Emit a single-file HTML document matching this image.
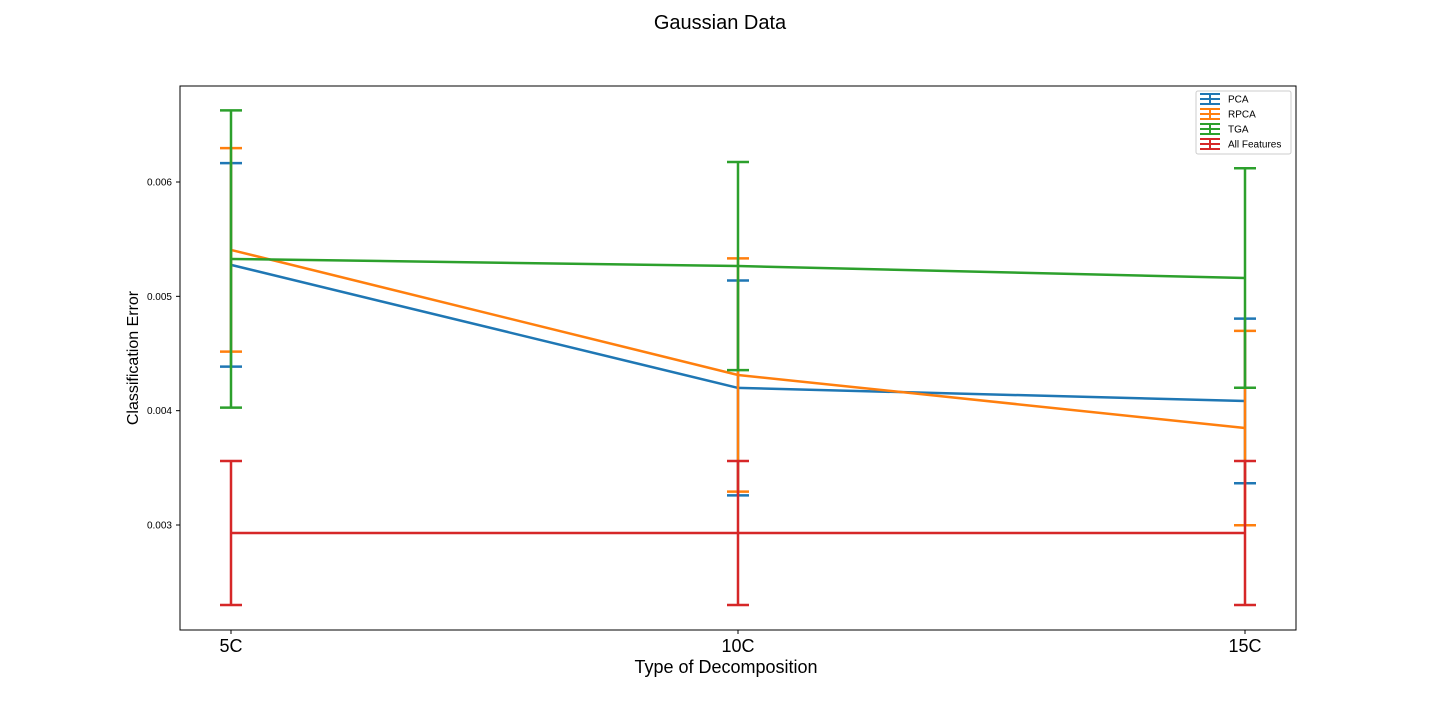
<!DOCTYPE html>
<html><head><meta charset="utf-8"><style>
html,body{margin:0;padding:0;background:#fff;}
svg{display:block;font-family:"Liberation Sans","DejaVu Sans",sans-serif;}
</style></head><body>
<svg id="chart" width="1440" height="720" viewBox="0 0 1440 720">
<text x="720" y="29" font-size="20" text-anchor="middle" fill="#000">Gaussian Data</text>
<rect x="180" y="86" width="1116" height="544" fill="none" stroke="#000" stroke-width="1"/>
<g id="yticks"></g>
<g id="xticks"></g>
<g id="series"></g>
<text x="726" y="673" font-size="18" text-anchor="middle">Type of Decomposition</text>
<text transform="translate(138,358) rotate(-90)" font-size="16" text-anchor="middle">Classification Error</text>
<g id="legend">
<rect x="1196" y="91" width="95" height="63" fill="#fff" stroke="#ccc" rx="2"/>
</g>
</svg>
<script>
const categories = ["5C","10C","15C"];
const seriesNames = ["PCA","RPCA","TGA","All Features"];
const colors = ["#1f77b4","#ff7f0e","#2ca02c","#d62728"];
const pcaMean = [0.005275, 0.004199, 0.004085];
const pcaErr  = [0.00089, 0.00094, 0.00072];
const rpcaMean = [0.005406, 0.004312, 0.003848];
const rpcaErr  = [0.00089, 0.00102, 0.00085];
const tgaMean = [0.005327, 0.005265, 0.00516];
const tgaErr  = [0.0013, 0.00091, 0.00096];
const allMean = [0.00293, 0.00293, 0.00293];
const allErr  = [0.00063, 0.00063, 0.00063];
const yTicks = [0.003, 0.004, 0.005, 0.006];
const yTickLabels = ["0.003","0.004","0.005","0.006"];

const NS="http://www.w3.org/2000/svg";
function y(v){ return 525 - (v-0.003)*114333; }
function x(i){ return 231 + i*507; }
function mk(tag, attrs, parent){ const e=document.createElementNS(NS,tag); for(const k in attrs) e.setAttribute(k,attrs[k]); parent.appendChild(e); return e; }

const yg=document.getElementById('yticks');
yTicks.forEach((t,i)=>{
  const l=mk('line',{x1:176,x2:180,y1:y(t),y2:y(t),stroke:'#000'},yg);
  
  
  const tx=mk('text',{x:172,y:y(t)+3.5,'font-size':10,'text-anchor':'end'},yg);
  tx.textContent=yTickLabels[i];
  
  
});
const xg=document.getElementById('xticks');
categories.forEach((c,i)=>{
  const l=mk('line',{x1:x(i),x2:x(i),y1:630,y2:634,stroke:'#000'},xg);
  
  
  const tx=mk('text',{x:x(i),y:652,'font-size':18,'text-anchor':'middle'},xg);
  tx.textContent=c;
  
  
});
const sg=document.getElementById('series');
const means=[pcaMean,rpcaMean,tgaMean,allMean];
const errs=[pcaErr,rpcaErr,tgaErr,allErr];
means.forEach((m,s)=>{
  const g=mk('g',{},sg);
  
  
  m.forEach((v,i)=>{
    const lo=v-errs[s][i], hi=v+errs[s][i];
    const eb=mk('line',{x1:x(i),x2:x(i),y1:y(lo),y2:y(hi),stroke:colors[s],'stroke-width':2.5},g);
    
    
    [lo,hi].forEach(c=>{
      const cp=mk('line',{x1:x(i)-11,x2:x(i)+11,y1:y(c),y2:y(c),stroke:colors[s],'stroke-width':2.5},g);
      
      
    });
  });
  const pl=mk('polyline',{points:m.map((v,i)=>x(i)+','+y(v)).join(' '),fill:'none',stroke:colors[s],'stroke-width':2.5},g);
  
  
});
const lg=document.getElementById('legend');
seriesNames.forEach((n,s)=>{
  const yy=99+s*15;
  const e=mk('g',{},lg);
  
  
  mk('line',{x1:1210,x2:1210,y1:yy-5,y2:yy+5,stroke:colors[s],'stroke-width':2},e);
  mk('line',{x1:1200,x2:1220,y1:yy,y2:yy,stroke:colors[s],'stroke-width':2},e);
  mk('line',{x1:1200,x2:1220,y1:yy-5,y2:yy-5,stroke:colors[s],'stroke-width':2},e);
  mk('line',{x1:1200,x2:1220,y1:yy+5,y2:yy+5,stroke:colors[s],'stroke-width':2},e);
  const t=mk('text',{x:1228,y:yy+3.5,'font-size':10},e);
  t.textContent=n;
});
</script>
</body></html>
